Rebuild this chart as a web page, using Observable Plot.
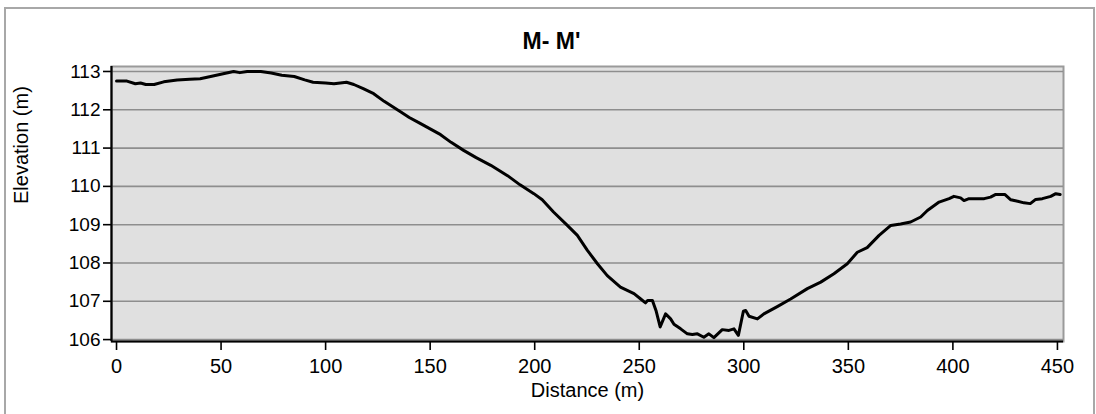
<!DOCTYPE html>
<html>
<head>
<meta charset="utf-8">
<script src="https://cdn.jsdelivr.net/npm/d3@7"></script>
<script src="https://cdn.jsdelivr.net/npm/@observablehq/plot@0.6"></script>
<style>
  html, body { margin: 0; padding: 0; background: #fff; }
  #wrap { position: relative; width: 1096px; height: 414px; overflow: hidden; }
  #border { position: absolute; left: 4px; top: 7px; width: 1091px; height: 420px; border: 2px solid #a8a8a8; box-sizing: border-box; }
  #chart { position: absolute; left: 0; top: 0; }
</style>
</head>
<body>
<div id="wrap"><div id="border"></div><div id="chart"></div></div>
<script>
const distance = [0, 5, 9, 11.5, 14, 18, 22.6, 29, 35, 40, 45, 51, 56, 59, 62.5, 69, 74, 79, 85, 90, 94, 100, 104, 110, 113.5, 118, 123, 128, 136, 140, 145, 150, 155, 160, 166, 172, 179, 187, 193, 199.6, 203.6, 209, 215.6, 220.4, 225.2, 230, 234.7, 241, 247.5, 250.7, 253, 254, 256.3, 258, 260, 262.6, 265, 266.6, 269.8, 273, 275.4, 277.8, 280.9, 283.3, 285.7, 289.7, 292.9, 295.3, 297.4, 299.8, 300.9, 302.5, 306.5, 309.6, 316, 322.4, 330.4, 336.8, 343.1, 349.5, 354.3, 359, 364.7, 370.3, 375, 379.8, 384.6, 387.8, 393.4, 398.2, 400.5, 403.7, 405.3, 407.7, 415, 418, 420.5, 424.8, 427.7, 431, 434, 437, 439.6, 442.8, 446.8, 449.2, 451.3];
const elevation = [112.75, 112.75, 112.68, 112.70, 112.66, 112.66, 112.73, 112.78, 112.80, 112.81, 112.87, 112.94, 113.00, 112.97, 113.00, 113.00, 112.96, 112.90, 112.87, 112.78, 112.72, 112.70, 112.68, 112.72, 112.66, 112.55, 112.42, 112.22, 111.94, 111.80, 111.65, 111.50, 111.35, 111.15, 110.94, 110.75, 110.55, 110.28, 110.04, 109.81, 109.65, 109.33, 108.98, 108.72, 108.33, 107.98, 107.67, 107.37, 107.20, 107.06, 106.96, 107.02, 107.02, 106.76, 106.33, 106.67, 106.54, 106.40, 106.28, 106.15, 106.13, 106.15, 106.06, 106.15, 106.05, 106.26, 106.24, 106.28, 106.11, 106.74, 106.76, 106.61, 106.54, 106.67, 106.86, 107.06, 107.33, 107.50, 107.72, 107.98, 108.28, 108.40, 108.72, 108.98, 109.02, 109.07, 109.20, 109.37, 109.59, 109.68, 109.74, 109.70, 109.63, 109.68, 109.68, 109.72, 109.79, 109.79, 109.65, 109.61, 109.57, 109.55, 109.66, 109.68, 109.74, 109.81, 109.79];
const xTicks = [0, 50, 100, 150, 200, 250, 300, 350, 400, 450];
const yTicks = [106, 107, 108, 109, 110, 111, 112, 113];
const titleText = ["M- M'"];
const xLabel = ["Distance (m)"];
const yLabel = ["Elevation (m)"];

const xDomain = [-2.4, 452.9];
const yDomain = [105.95, 113.13];
const data = distance.map((d, i) => ({distance: d, elevation: elevation[i]}));

const chart = Plot.plot({
  width: 1096,
  height: 414,
  marginLeft: 111,
  marginRight: 33,
  marginTop: 66,
  marginBottom: 73,
  style: {fontFamily: "'Liberation Sans', Arial, sans-serif", background: "transparent", color: "#000", overflow: "visible"},
  x: {domain: xDomain, label: null},
  y: {domain: yDomain, label: null},
  marks: [
    Plot.frame({fill: "#e0e0e0", stroke: "#9a9a9a", strokeWidth: 2}),
    Plot.gridY(yTicks, {stroke: "#8e8e8e", strokeOpacity: 1, strokeWidth: 1.6}),
    Plot.line(data, {x: "distance", y: "elevation", stroke: "#000", strokeWidth: 3, strokeLinejoin: "round"}),
    Plot.ruleX([xDomain[0]], {stroke: "#000", strokeWidth: 2.2}),
    Plot.ruleY([yDomain[0]], {stroke: "#000", strokeWidth: 2.2}),
    Plot.axisX(xTicks, {tickSize: 9, tickPadding: 8, fontSize: 20, strokeWidth: 1.6, stroke: "#000"}),
    Plot.axisY(yTicks, {tickSize: 8, tickPadding: 3, fontSize: 19, strokeWidth: 1.6, stroke: "#000"}),
    Plot.text(titleText, {frameAnchor: "top", dx: -36, dy: -25, fontSize: 23, fontWeight: "bold", lineAnchor: "middle", fill: "#000"}),
    Plot.text(xLabel, {frameAnchor: "bottom", dy: 49, fontSize: 20, lineAnchor: "middle", fill: "#000"}),
    Plot.text(yLabel, {frameAnchor: "left", dx: -90, rotate: -90, fontSize: 20, lineAnchor: "middle", fill: "#000"})
  ]
});
document.getElementById("chart").appendChild(chart);
</script>
</body>
</html>
